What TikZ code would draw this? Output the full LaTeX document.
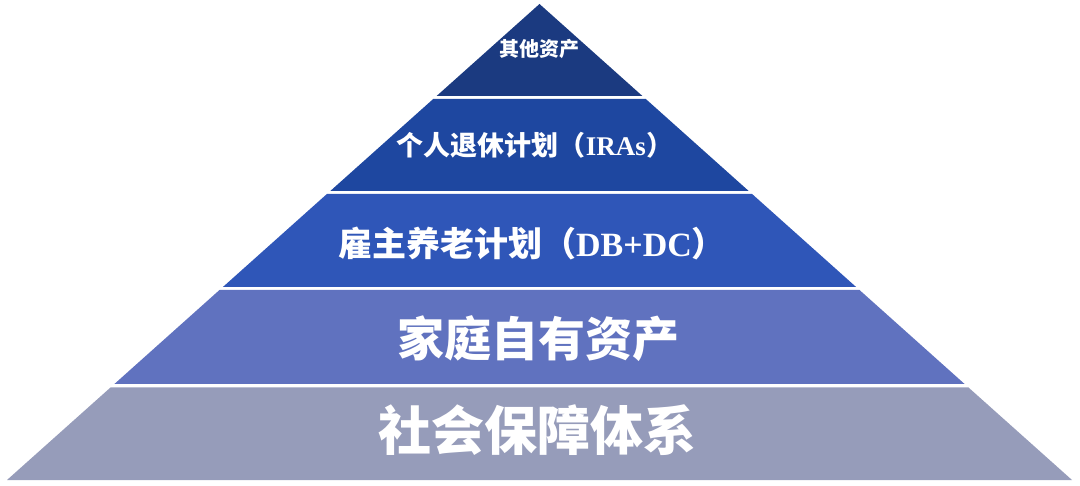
\documentclass[tikz,border=0pt]{standalone}
\usepackage{fontspec}
\setmainfont{Liberation Serif}
\newfontfamily\cjk{Noto Sans CJK SC}
\definecolor{cA}{HTML}{1B3A80}
\definecolor{cB}{HTML}{1E47A0}
\definecolor{cC}{HTML}{2F56B8}
\definecolor{cD}{HTML}{6072BF}
\definecolor{cE}{HTML}{969CBA}
\tikzset{
  lbl/.style={text=white, inner sep=0pt, font=\bfseries\cjk},
}
\begin{document}
\begin{tikzpicture}[x=1pt,y=-1pt]
\useasboundingbox (0,0) rectangle (1080,486);
% layers
\fill[cA] (539.5,4) -- (642.4,96) -- (436.6,96) -- cycle;
\fill[cB] (433.2,99) -- (645.8,99) -- (748.7,191) -- (330.3,191) -- cycle;
\fill[cC] (326.9,194) -- (752.1,194) -- (856.1,287) -- (222.9,287) -- cycle;
\fill[cD] (219.5,290) -- (859.5,290) -- (964.6,384) -- (114.4,384) -- cycle;
\fill[cE] (110.5,387.5) -- (968.5,387.5) -- (1072,480) -- (7,480) -- cycle;
% labels
\node[lbl, font=\fontsize{20}{24}\selectfont\bfseries\cjk] (t1) at (539,49) {其他资产};
\node[lbl, font=\fontsize{27}{32}\selectfont\bfseries\cjk] (t2) at (535,145) {个人退休计划（{\rmfamily\bfseries IRAs}）};
\node[lbl, font=\fontsize{34}{39}\selectfont\bfseries\cjk] (t3) at (532,243) {雇主养老计划（{\rmfamily\bfseries DB+DC}）};
\node[lbl, font=\fontsize{47}{54}\selectfont\bfseries\cjk] (t4) at (538,339) {家庭自有资产};
\node[lbl, font=\fontsize{53}{60}\selectfont\bfseries\cjk] (t5) at (537,430) {社会保障体系};
\end{tikzpicture}
\end{document}
